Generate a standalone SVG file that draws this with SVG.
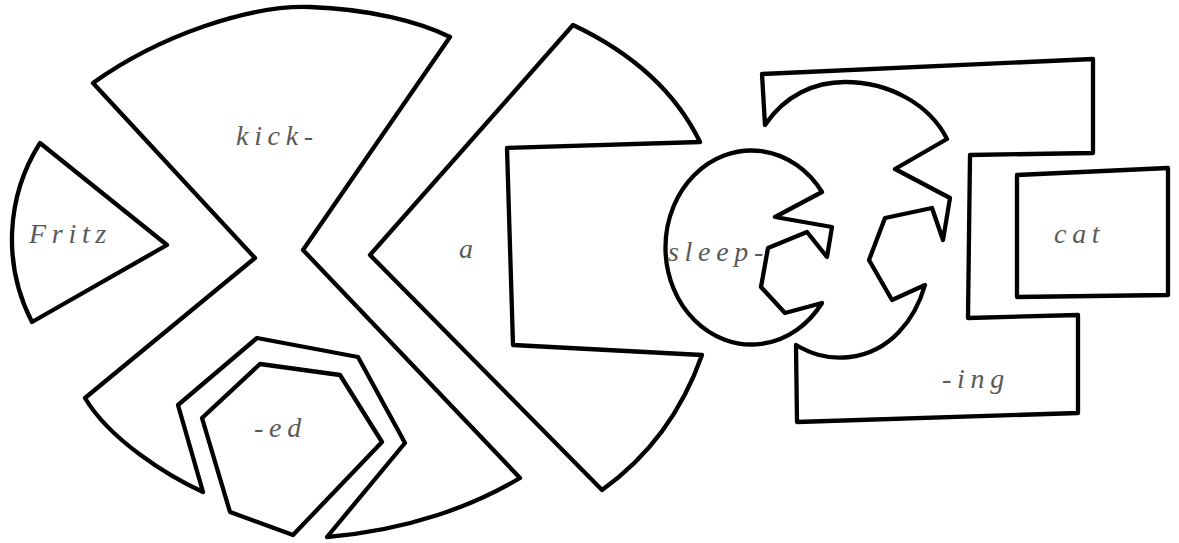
<svg xmlns="http://www.w3.org/2000/svg" width="1179" height="543" viewBox="0 0 1179 543">
<style>
.shape{fill:#fff;stroke:#000;stroke-width:4.3;stroke-linejoin:round;stroke-linecap:round}
.lbl{font-family:"Liberation Serif","DejaVu Serif",serif;font-style:italic;font-size:28px;letter-spacing:5.7px;fill:#5a5a5a}
</style>
<rect width="1179" height="543" fill="#fff"/>
<g id="fritz">
<path class="shape" d="M40,143 L167,245 L32,322 A180,180 0 0 1 40,143 Z"/>
<text class="lbl" x="29" y="243">Fritz</text>
</g>
<g id="kick">
<path class="shape" d="M93,83 C160,35 250,5 310,7 C370,9 420,22 450,37 L303,250 L520,478 C475,505 410,530 327,537 L405,443 L358,357 L257,338 L178,405 L203,492 C168,476 110,440 85,398 L255,258 Z"/>
<text class="lbl" x="236" y="145">kick-</text>
</g>
<g id="ed">
<path class="shape" d="M260,364 L340,375 L382,442 L293,535 L230,512 L202,418 Z"/>
<text class="lbl" x="254" y="437">-ed</text>
</g>
<g id="a">
<path class="shape" d="M573,25 Q664,68 700,142 L507,148 L513,345 L702,355 Q672,440 602,490 L370,255 Z"/>
<text class="lbl" x="459" y="258">a</text>
</g>
<g id="sleep">
<path class="shape" d="M822,192 L775,217 L832,227 L827,257 L807,232 L768,248 L761,287 L785,313 L822,303 A86,97 0 1 1 822,192 Z"/>
<text class="lbl" x="668" y="261">sleep-</text>
</g>
<g id="ing">
<path class="shape" d="M762,74 L1093,59 L1093,153 L970,155 L968,318 L1078,315 L1078,413 L797,422 L796,345 C808,352 825,360 850,357 C890,352 915,320 925,285 L892,300 L869,260 L885,218 L932,208 L943,240 L950,198 L895,169 L947,139 C930,105 890,82 845,82 C815,82 785,95 765,125 Z"/>
<text class="lbl" x="942" y="388">-ing</text>
</g>
<g id="cat">
<path class="shape" d="M1017,175 L1168,168 L1168,295 L1017,297 Z"/>
<text class="lbl" x="1054" y="243">cat</text>
</g>
<g id="connectors"/>
</svg>
